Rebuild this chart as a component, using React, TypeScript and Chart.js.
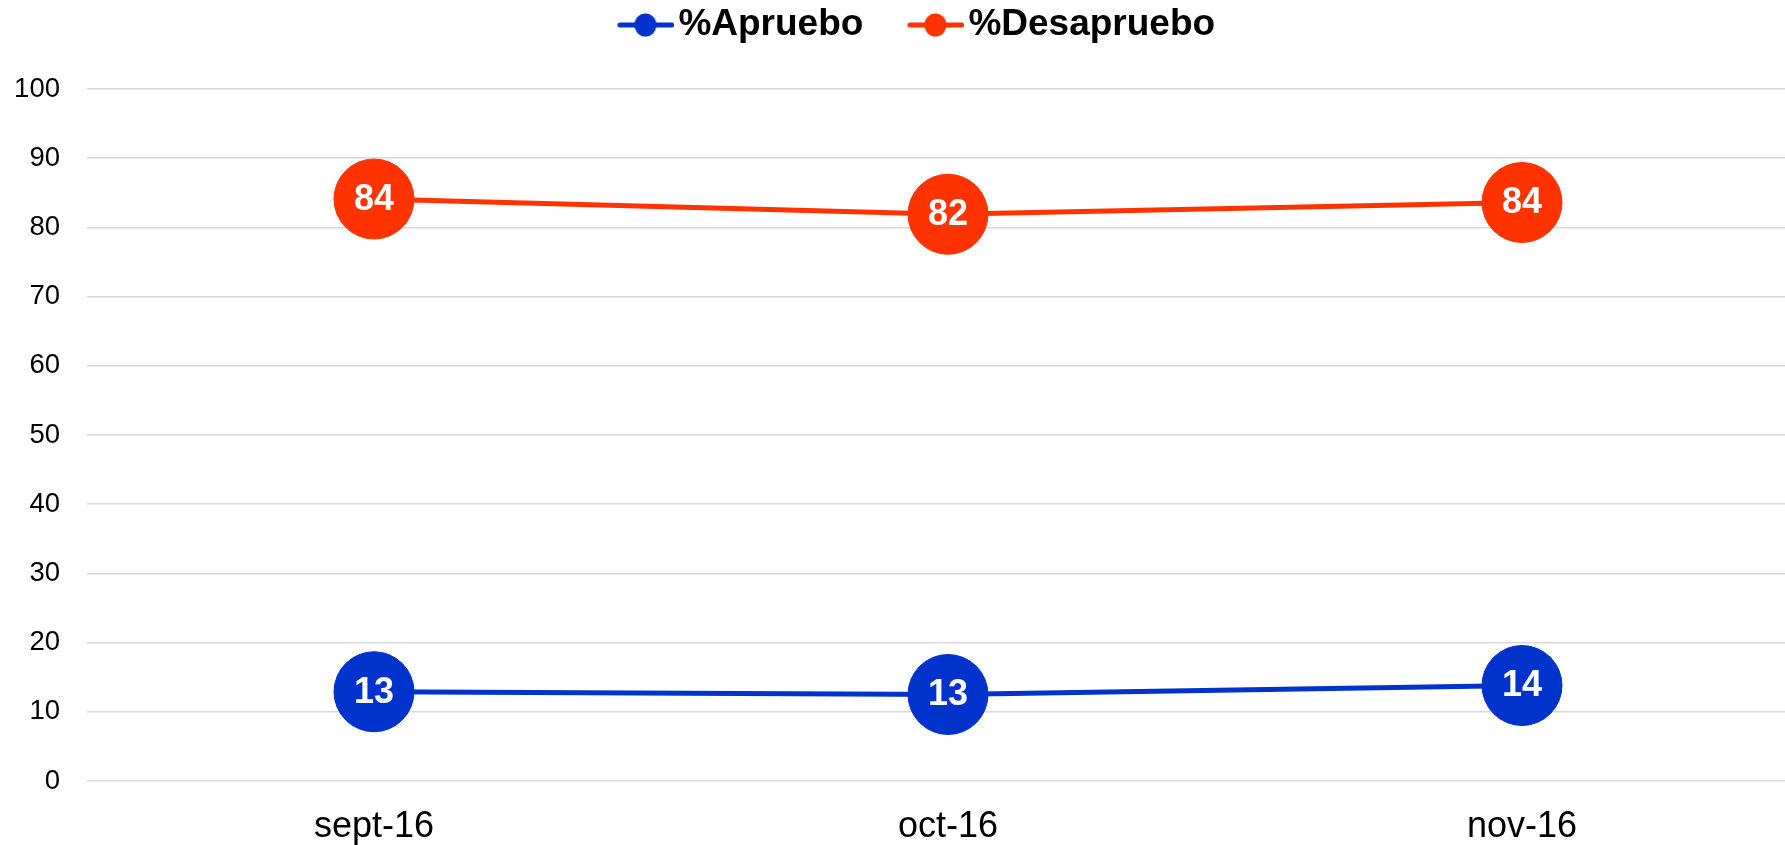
import React, { useEffect, useRef } from "react";
import { Chart, registerables } from "chart.js";

Chart.register(...registerables);

const categories = ["sept-16", "oct-16", "nov-16"];
const apruebo = [12.9, 12.5, 13.8];
const desapruebo = [84.1, 81.9, 83.6];
const seriesNames = ["%Apruebo", "%Desapruebo"];
const seriesColors = ["#0033CC", "#FF3300"];
const yTicksMin = 0;
const yTicksMax = 100;
const yTicksStep = 10;

function makeLegendIcon(color: string): HTMLCanvasElement {
  const c = document.createElement("canvas");
  c.width = 109;
  c.height = 26;
  const ctx = c.getContext("2d")!;
  ctx.strokeStyle = color;
  ctx.lineWidth = 5;
  ctx.lineCap = "round";
  ctx.beginPath();
  ctx.moveTo(54.5, 13);
  ctx.lineTo(106.5, 13);
  ctx.stroke();
  ctx.fillStyle = color;
  ctx.beginPath();
  ctx.ellipse(80, 13, 11, 11.5, 0, 0, Math.PI * 2);
  ctx.fill();
  return c;
}

const valueLabels = {
  id: "valueLabels",
  afterDatasetsDraw(chart: any) {
    const ctx = chart.ctx;
    ctx.save();
    ctx.fillStyle = "#ffffff";
    ctx.font = "bold 36px 'Liberation Sans', Arial, sans-serif";
    ctx.textAlign = "center";
    ctx.textBaseline = "middle";
    chart.data.datasets.forEach((ds: any, i: number) => {
      const meta = chart.getDatasetMeta(i);
      meta.data.forEach((el: any, j: number) => {
        ctx.fillText(String(Math.round(ds.data[j])), el.x, el.y + 1);
      });
    });
    ctx.restore();
  },
};

const legendShift = {
  id: "legendShift",
  afterLayout(chart: any) {
    const l = chart.legend;
    if (l) {
      l.left -= 7;
      l.right -= 7;
    }
  },
};

export default function App() {
  const ref = useRef<HTMLCanvasElement | null>(null);
  useEffect(() => {
    document.body.style.margin = "0";
    document.body.style.overflow = "hidden";
    const icons = seriesColors.map(makeLegendIcon);
    const chart = new Chart(ref.current!, {
      type: "line",
      data: {
        labels: categories,
        datasets: [apruebo, desapruebo].map((d, i) => ({
          label: seriesNames[i],
          data: d,
          borderColor: seriesColors[i],
          backgroundColor: seriesColors[i],
          borderWidth: 5,
          pointRadius: 40,
          pointHoverRadius: 40,
          pointBorderWidth: 1,
          pointBorderColor: seriesColors[i],
          pointBackgroundColor: seriesColors[i],
          tension: 0,
        })),
      },
      options: {
        responsive: false,
        animation: false,
        layout: { autoPadding: false, padding: 0 },
        plugins: {
          tooltip: { enabled: false },
          legend: {
            position: "top",
            labels: {
              usePointStyle: true,
              pointStyleWidth: 80,
              padding: 6.5,
              color: "#000",
              font: { family: "'Liberation Sans', Arial, sans-serif", size: 37, weight: "bold" },
              generateLabels: (chart: any) =>
                chart.data.datasets.map((ds: any, i: number) => ({
                  text: ds.label,
                  pointStyle: icons[i],
                  fillStyle: seriesColors[i],
                  strokeStyle: seriesColors[i],
                  lineWidth: 0,
                  hidden: false,
                  datasetIndex: i,
                  fontColor: "#000",
                })),
            },
          },
          subtitle: {
            display: true,
            text: "",
            weight: 500,
            font: { size: 10, lineHeight: 1 },
            padding: { top: 0, bottom: 25.5 },
          } as any,
        },
        scales: {
          x: {
            type: "category",
            offset: true,
            grid: { display: false, drawTicks: false },
            border: { display: false },
            ticks: {
              color: "#000",
              padding: 24,
              font: { family: "'Liberation Sans', Arial, sans-serif", size: 36 },
            },
            afterFit: (s: any) => {
              s.height = 64;
            },
          },
          y: {
            min: yTicksMin,
            max: yTicksMax,
            ticks: {
              stepSize: yTicksStep,
              color: "#000",
              padding: 27,
              font: { family: "'Liberation Sans', Arial, sans-serif", size: 27.5 },
            },
            grid: { color: "#d9d9d9", lineWidth: 1.5, drawTicks: false },
            border: { display: false },
            afterFit: (s: any) => {
              s.width = 87;
            },
          },
        },
      },
      plugins: [valueLabels, legendShift],
    });
    return () => chart.destroy();
  }, []);
  return (
    <div style={{ width: 1785, height: 845, overflow: "hidden" }}>
      <canvas ref={ref} width={1809} height={845} style={{ display: "block" }} />
    </div>
  );
}
